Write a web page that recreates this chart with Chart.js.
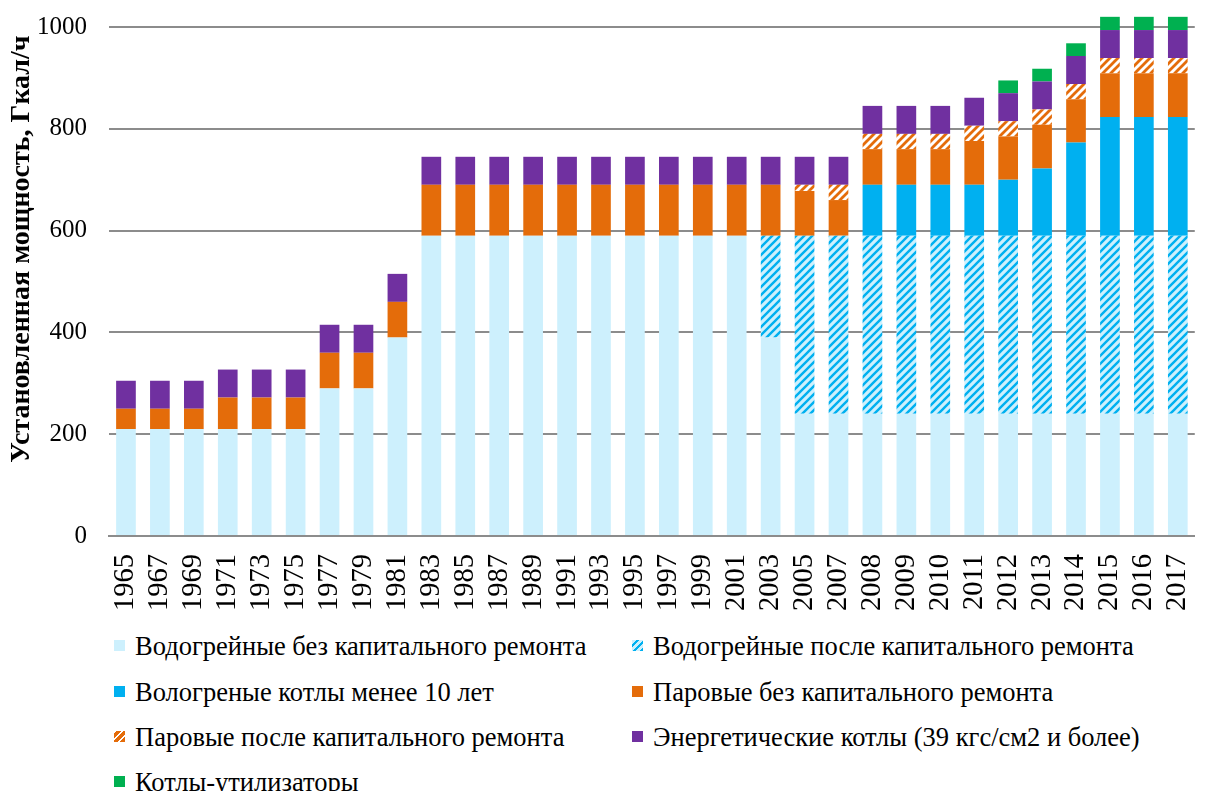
<!DOCTYPE html>
<html>
<head>
<meta charset="utf-8">
<script src="https://cdn.jsdelivr.net/npm/chart.js@4.4.0/dist/chart.umd.min.js"></script>
<style>
  body { margin: 0; background: #fff; width: 1222px; height: 791px; overflow: hidden; position: relative;
         font-family: "Liberation Serif", "Times New Roman", serif; }
  #wrap { position: absolute; left: 0; top: 0; width: 1222px; height: 620px; }
  .item { position: absolute; font-size: 26.5px; line-height: 30px; white-space: nowrap; color: #000; }
  .box { position: absolute; left: 0; top: 9px; width: 11px; height: 11px; }
  .item span { position: absolute; left: 21px; top: 0; }
</style>
</head>
<body>
<div id="wrap"><canvas id="my-chart" width="1222" height="620"></canvas></div>
<div id="legend"></div>
<script>
'use strict';

// categories
let years = ['1965', '1967', '1969', '1971', '1973', '1975', '1977', '1979', '1981', '1983',
  '1985', '1987', '1989', '1991', '1993', '1995', '1997', '1999', '2001', '2003',
  '2005', '2007', '2008', '2009', '2010', '2011', '2012', '2013', '2014', '2015', '2016', '2017'];

// series, Гкал/ч
let waterNoRepair = [210, 210, 210, 210, 210, 210, 290, 290, 390, 590,
  590, 590, 590, 590, 590, 590, 590, 590, 590, 390,
  240, 240, 240, 240, 240, 240, 240, 240, 240, 240, 240, 240];
let waterRepaired = [0, 0, 0, 0, 0, 0, 0, 0, 0, 0,
  0, 0, 0, 0, 0, 0, 0, 0, 0, 200,
  350, 350, 350, 350, 350, 350, 350, 350, 350, 350, 350, 350];
let waterNew = [0, 0, 0, 0, 0, 0, 0, 0, 0, 0,
  0, 0, 0, 0, 0, 0, 0, 0, 0, 0,
  0, 0, 100, 100, 100, 100, 110, 132, 183, 233, 233, 233];
let steamNoRepair = [40, 40, 40, 62, 62, 62, 70, 70, 70, 100,
  100, 100, 100, 100, 100, 100, 100, 100, 100, 100,
  88, 70, 70, 70, 70, 86, 85, 86, 85, 86, 86, 86];
let steamRepaired = [0, 0, 0, 0, 0, 0, 0, 0, 0, 0,
  0, 0, 0, 0, 0, 0, 0, 0, 0, 0,
  12, 30, 30, 30, 30, 30, 30, 30, 30, 30, 30, 30];
let power = [55, 55, 55, 55, 55, 55, 55, 55, 55, 55,
  55, 55, 55, 55, 55, 55, 55, 55, 55, 55,
  55, 55, 55, 55, 55, 55, 55, 55, 55, 55, 55, 55];
let recovery = [0, 0, 0, 0, 0, 0, 0, 0, 0, 0,
  0, 0, 0, 0, 0, 0, 0, 0, 0, 0,
  0, 0, 0, 0, 0, 0, 25, 25, 25, 26, 26, 26];

// y axis ticks
let yTicks = [0, 200, 400, 600, 800, 1000];
let yTitle = 'Установленная мощность, Гкал/ч';

let ctx = document.getElementById('my-chart');
let c2d = ctx.getContext('2d');

// diagonal hatch "/"
function makeHatch(bg, fg, w) {
  let t = document.createElement('canvas');
  t.width = 8;
  t.height = 8;
  let g = t.getContext('2d');
  g.fillStyle = bg;
  g.fillRect(0, 0, 8, 8);
  g.strokeStyle = fg;
  g.lineWidth = w;
  g.beginPath();
  g.moveTo(-1, 9); g.lineTo(9, -1);
  g.moveTo(-3, 3); g.lineTo(3, -3);
  g.moveTo(5, 11); g.lineTo(11, 5);
  g.stroke();
  return c2d.createPattern(t, 'repeat');
}

let blueHatch = makeHatch('#cdf0fd', '#00b0f0', 2.4);
let orangeHatch = makeHatch('#ffffff', '#e46c0a', 2.8);

let series = [
  { label: 'Водогрейные без капитального ремонта', data: waterNoRepair, color: '#cdf0fd', css: '#cdf0fd' },
  { label: 'Водогрейные после капитального ремонта', data: waterRepaired, color: blueHatch,
    css: 'repeating-linear-gradient(135deg, #cdf0fd 0 3px, #00b0f0 3px 5px)' },
  { label: 'Вологреные котлы менее 10 лет', data: waterNew, color: '#00b0f0', css: '#00b0f0' },
  { label: 'Паровые без капитального ремонта', data: steamNoRepair, color: '#e46c0a', css: '#e46c0a' },
  { label: 'Паровые после капитального ремонта', data: steamRepaired, color: orangeHatch,
    css: 'repeating-linear-gradient(135deg, #fff 0 2px, #e46c0a 2px 5px)' },
  { label: 'Энергетические котлы (39 кгс/см2 и более)', data: power, color: '#7030a0', css: '#7030a0' },
  { label: 'Котлы-утилизаторы', data: recovery, color: '#00b050', css: '#00b050' }
];

let datasets = [];
for (let i = 0; i < series.length; i++) {
  datasets.push({
    label: series[i].label,
    data: series[i].data,
    backgroundColor: series[i].color,
    borderWidth: 0,
    categoryPercentage: 1,
    barPercentage: 0.58,
    clip: false
  });
}

let font = 'Liberation Serif';

// axis title drawn a bit above the plot centre, like the original
let yTitlePlugin = {
  id: 'yTitle',
  afterDraw: function (chart) {
    let g = chart.ctx;
    g.save();
    g.translate(22, 249);
    g.rotate(-Math.PI / 2);
    g.font = 'bold 28px "' + font + '"';
    g.fillStyle = '#000';
    g.textAlign = 'center';
    g.textBaseline = 'middle';
    g.fillText(yTitle, 0, 0);
    g.restore();
  }
};

let chartObject = {
  type: 'bar',
  data: { labels: years, datasets: datasets },
  options: {
    responsive: false,
    animation: false,
    devicePixelRatio: 1,
    layout: { padding: { top: 27, left: 0, right: 0, bottom: 0 } },
    plugins: { legend: { display: false }, tooltip: { enabled: false } },
    scales: {
      x: {
        stacked: true,
        grid: { display: false },
        border: { display: true, color: '#8c8c8c', width: 2 },
        ticks: {
          autoSkip: false, maxRotation: 90, minRotation: 90, padding: 10,
          color: '#000', font: { family: font, size: 28.5 }
        },
        afterFit: function (scale) { scale.height = 84; }
      },
      y: {
        stacked: true,
        min: 0,
        max: 1000,
        afterBuildTicks: function (scale) {
          scale.ticks = yTicks.map(function (v) { return { value: v }; });
        },
        grid: { color: '#8c8c8c', lineWidth: 2, drawTicks: false },
        border: { display: false },
        ticks: {
          padding: 22, color: '#000', font: { family: font, size: 25 },
          callback: function (v) { return String(v); }
        },
        afterFit: function (scale) {
          scale.width = 109;
          scale.paddingTop = 0;
          scale.paddingBottom = 0;
        }
      }
    }
  },
  plugins: [yTitlePlugin]
};

const myChart = new Chart(ctx, chartObject);

// legend, two columns
let legend = document.getElementById('legend');
let colX = [114, 632];
let rowY = [631, 677, 722, 767];
for (let i = 0; i < series.length; i++) {
  let div = document.createElement('div');
  div.className = 'item';
  div.style.left = colX[i % 2] + 'px';
  div.style.top = rowY[Math.floor(i / 2)] + 'px';
  let box = document.createElement('div');
  box.className = 'box';
  box.style.background = series[i].css;
  let span = document.createElement('span');
  span.textContent = series[i].label;
  div.appendChild(box);
  div.appendChild(span);
  legend.appendChild(div);
}
</script>
</body>
</html>
